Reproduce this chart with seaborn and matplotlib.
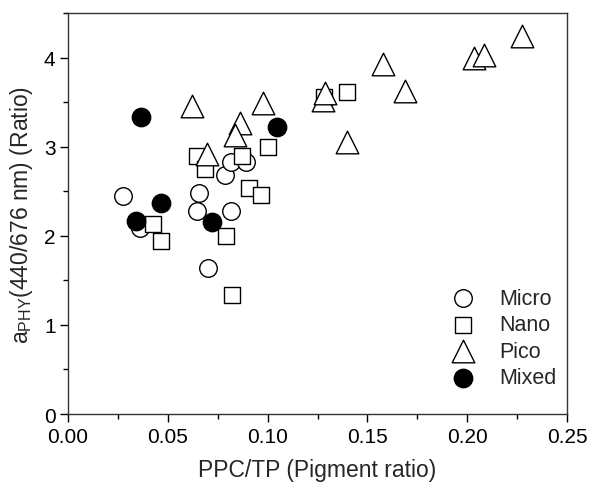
import numpy as np
import pandas as pd
import matplotlib
matplotlib.use('Agg')
import matplotlib.pyplot as plt
from matplotlib.ticker import MultipleLocator
import seaborn as sns

# data
micro_x = [0.0277, 0.036, 0.0658, 0.0645, 0.0815, 0.070, 0.0787, 0.0815, 0.089]
micro_y = [2.45, 2.09, 2.48, 2.28, 2.28, 1.64, 2.68, 2.83, 2.83]

nano_x = [0.0424, 0.0466, 0.0648, 0.0686, 0.087, 0.100, 0.0907, 0.0969, 0.079, 0.082, 0.1285, 0.140]
nano_y = [2.13, 1.94, 2.90, 2.75, 2.90, 3.00, 2.54, 2.46, 2.00, 1.34, 3.56, 3.61]

pico_x = [0.062, 0.0975, 0.086, 0.0837, 0.0695, 0.128, 0.129, 0.140, 0.158, 0.169, 0.2034, 0.2086, 0.2276]
pico_y = [3.46, 3.49, 3.27, 3.13, 2.92, 3.52, 3.60, 3.05, 3.93, 3.63, 3.99, 4.03, 4.24]

mixed_x = [0.0366, 0.1047, 0.0464, 0.0341, 0.072]
mixed_y = [3.33, 3.22, 2.37, 2.17, 2.15]

sns.set_style('ticks')
plt.rcParams['font.family'] = ['Liberation Sans', 'DejaVu Sans']
plt.rcParams['mathtext.fontset'] = 'custom'
plt.rcParams['mathtext.rm'] = 'Liberation Sans'
plt.rcParams['mathtext.it'] = 'Liberation Sans'

fig = plt.figure(figsize=(5.89, 4.85), dpi=100)
ax = fig.add_axes([0.1155, 0.1443, 0.8471, 0.8268])

groups = [
    ('Micro', micro_x, micro_y, 'o', 'white', 160),
    ('Nano', nano_x, nano_y, 's', 'white', 130),
    ('Pico', pico_x, pico_y, '^', 'white', 265),
    ('Mixed', mixed_x, mixed_y, 'o', 'black', 175),
]
for name, gx, gy, mk, fc, sz in groups:
    d = pd.DataFrame({'x': gx, 'y': gy})
    sns.scatterplot(data=d, x='x', y='y', marker=mk, s=sz, color=fc,
                    edgecolor='black', linewidth=1.0, label=name, ax=ax, zorder=3)

ax.set_xlim(0, 0.25)
ax.set_ylim(0, 4.5)
ax.xaxis.set_major_locator(MultipleLocator(0.05))
ax.xaxis.set_minor_locator(MultipleLocator(0.025))
ax.yaxis.set_major_locator(MultipleLocator(1))
ax.yaxis.set_minor_locator(MultipleLocator(0.5))
ax.xaxis.set_major_formatter(matplotlib.ticker.FormatStrFormatter('%.2f'))
ax.tick_params(which='major', direction='out', length=6, width=1, labelsize=15,
               colors='black', pad=3)
ax.tick_params(which='minor', direction='out', length=3.5, width=1, colors='black')
for sp in ax.spines.values():
    sp.set_visible(True)
    sp.set_linewidth(1.0)
    sp.set_color('#333333')

ax.set_xlabel('PPC/TP (Pigment ratio)', fontsize=16.5, labelpad=9)
ax.set_ylabel(r'a$_{\mathrm{PHY}}$(440/676 nm) (Ratio)', fontsize=16.5, labelpad=6)

ax.legend(loc='lower right', bbox_to_anchor=(0.997, 0.043), frameon=False,
          fontsize=15.5, handletextpad=0.7, labelspacing=0.25,
          borderaxespad=0.0, markerscale=1.0)

fig.savefig('out.png', dpi=100)
